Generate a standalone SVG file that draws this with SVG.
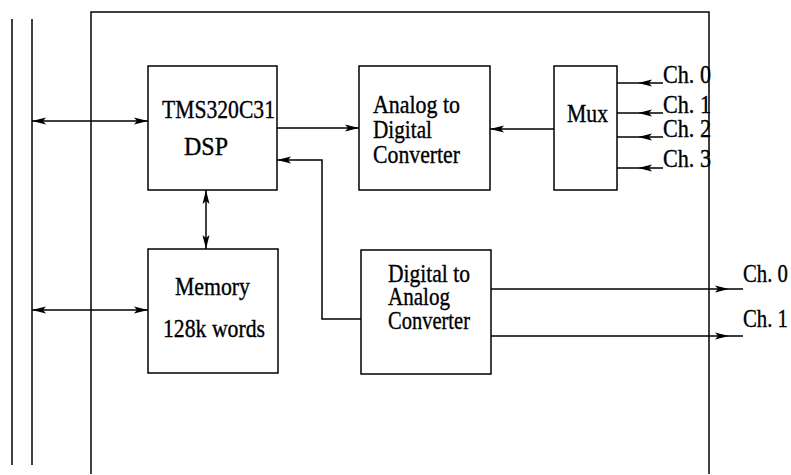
<svg xmlns="http://www.w3.org/2000/svg" width="791" height="475" viewBox="0 0 791 475">
<defs>
<style>
.ln{stroke:#000;stroke-width:1.5;fill:none}
.box{stroke:#000;stroke-width:1.5;fill:#fff}
.t{font-family:"Liberation Serif","Times New Roman",serif;font-size:25px;fill:#000;stroke:#000;stroke-width:0.35}
</style>
<marker id="ah" markerUnits="userSpaceOnUse" markerWidth="16" markerHeight="10" viewBox="-14 -5 16 10" refX="0" refY="0" orient="auto">
<path d="M0,0 L-14,-3.5 L-11,0 L-14,3.5 Z" fill="#000"/>
</marker>
<marker id="as" markerUnits="userSpaceOnUse" markerWidth="16" markerHeight="10" viewBox="-14 -5 16 10" refX="0" refY="0" orient="auto-start-reverse">
<path d="M0,0 L-14,-3.5 L-11,0 L-14,3.5 Z" fill="#000"/>
</marker>
</defs>
<rect width="791" height="475" fill="#fff"/>

<g id="bus">
<line class="ln" x1="12" y1="19" x2="12" y2="465"/>
<line class="ln" x1="32" y1="19" x2="32" y2="465"/>
</g>
<g id="board">
<path class="ln" d="M91,474 L91,12 L709,12 L709,474"/>
</g>

<g id="connectors">
<line class="ln" x1="32" y1="121" x2="148" y2="121" marker-start="url(#as)" marker-end="url(#as)"/>
<line class="ln" x1="32" y1="310" x2="148" y2="310" marker-start="url(#as)" marker-end="url(#as)"/>
<line class="ln" x1="206" y1="190" x2="206" y2="249" marker-start="url(#as)" marker-end="url(#as)"/>
<line class="ln" x1="277" y1="128" x2="359" y2="128" marker-end="url(#ah)"/>
<line class="ln" x1="554" y1="129" x2="490" y2="129" marker-end="url(#ah)"/>
<path class="ln" d="M361,319 L322,319 L322,160 L277,160" marker-end="url(#ah)"/>
<line class="ln" x1="663" y1="83" x2="638" y2="83" marker-end="url(#ah)"/>
<line class="ln" x1="638" y1="83" x2="617" y2="83"/>
<line class="ln" x1="663" y1="113" x2="638" y2="113" marker-end="url(#ah)"/>
<line class="ln" x1="638" y1="113" x2="617" y2="113"/>
<line class="ln" x1="663" y1="137" x2="638" y2="137" marker-end="url(#ah)"/>
<line class="ln" x1="638" y1="137" x2="617" y2="137"/>
<line class="ln" x1="663" y1="168" x2="638" y2="168" marker-end="url(#ah)"/>
<line class="ln" x1="638" y1="168" x2="617" y2="168"/>
<line class="ln" x1="491" y1="289" x2="729" y2="289" marker-end="url(#ah)"/>
<line class="ln" x1="729" y1="289" x2="743" y2="289"/>
<line class="ln" x1="491" y1="336" x2="729" y2="336" marker-end="url(#ah)"/>
<line class="ln" x1="729" y1="336" x2="743" y2="336"/>
</g>

<g id="dsp">
<rect class="box" x="148" y="66" width="129" height="124"/>
<text class="t" x="162" y="118" textLength="113" lengthAdjust="spacingAndGlyphs">TMS320C31</text>
<text class="t" x="184" y="155" textLength="44" lengthAdjust="spacingAndGlyphs">DSP</text>
</g>
<g id="adc">
<rect class="box" x="359" y="66" width="131" height="124"/>
<text class="t" x="373" y="113" textLength="87" lengthAdjust="spacingAndGlyphs">Analog to</text>
<text class="t" x="373" y="138" textLength="59" lengthAdjust="spacingAndGlyphs">Digital</text>
<text class="t" x="373" y="163" textLength="87" lengthAdjust="spacingAndGlyphs">Converter</text>
</g>
<g id="mux">
<rect class="box" x="554" y="66" width="63" height="124"/>
<text class="t" x="567" y="122" textLength="41" lengthAdjust="spacingAndGlyphs">Mux</text>
</g>
<g id="memory">
<rect class="box" x="148" y="249" width="130" height="124"/>
<text class="t" x="175" y="295" textLength="75" lengthAdjust="spacingAndGlyphs">Memory</text>
<text class="t" x="163" y="337" textLength="102" lengthAdjust="spacingAndGlyphs">128k words</text>
</g>
<g id="dac">
<rect class="box" x="361" y="250" width="130" height="124"/>
<text class="t" x="388" y="282" textLength="82" lengthAdjust="spacingAndGlyphs">Digital to</text>
<text class="t" x="388" y="305" textLength="62" lengthAdjust="spacingAndGlyphs">Analog</text>
<text class="t" x="388" y="329" textLength="82" lengthAdjust="spacingAndGlyphs">Converter</text>
</g>
<g id="labels">
<text class="t" x="663" y="83" textLength="48" lengthAdjust="spacingAndGlyphs">Ch. 0</text>
<text class="t" x="663" y="113" textLength="48" lengthAdjust="spacingAndGlyphs">Ch. 1</text>
<text class="t" x="663" y="137" textLength="48" lengthAdjust="spacingAndGlyphs">Ch. 2</text>
<text class="t" x="663" y="167" textLength="48" lengthAdjust="spacingAndGlyphs">Ch. 3</text>
<text class="t" x="743" y="282" textLength="45" lengthAdjust="spacingAndGlyphs">Ch. 0</text>
<text class="t" x="743" y="327" textLength="45" lengthAdjust="spacingAndGlyphs">Ch. 1</text>
</g>
</svg>
